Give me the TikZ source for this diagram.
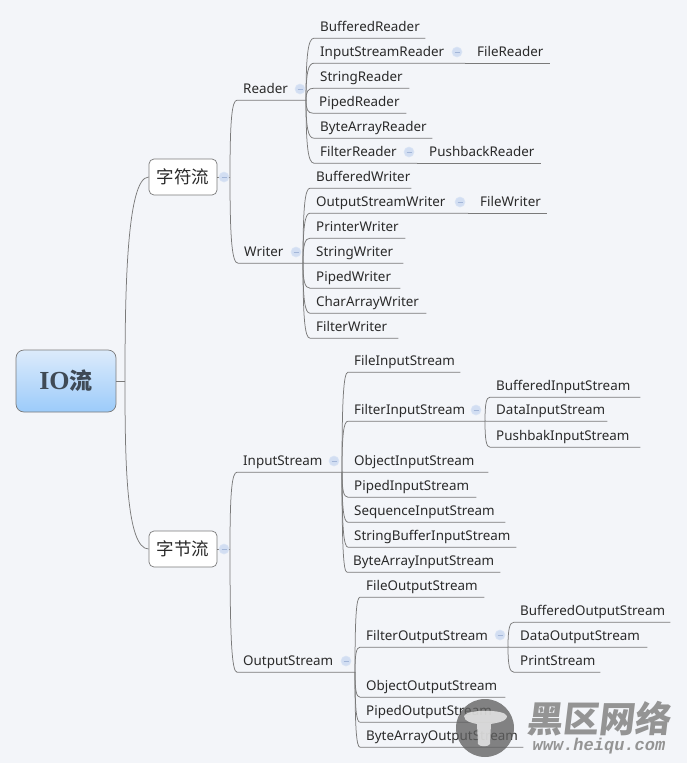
\documentclass[tikz,border=0pt]{standalone}
\usepackage{fontspec}
\setmainfont{Noto Sans}
\newfontfamily\cjkfont{Noto Sans CJK SC}
\newfontfamily\wmfont{Liberation Mono}
\newfontfamily\rootfont{Liberation Serif}
\usetikzlibrary{calc,shadings}
\definecolor{pagebg}{HTML}{F3F5F9}
\definecolor{linegray}{HTML}{7A7A7A}
\definecolor{inkc}{HTML}{2A2A2A}
\definecolor{rootink}{HTML}{3F4A55}
\definecolor{roottop}{HTML}{DCEBFB}
\definecolor{rootbot}{HTML}{9CCBFA}
\definecolor{dotfill}{HTML}{D2DEF2}
\definecolor{dotline}{HTML}{A3B6D8}
\tikzset{
  conn/.style={draw=linegray,line width=0.75pt},
  leafnode/.style={anchor=base west,inner xsep=6pt,inner ysep=0pt,text height=11pt,text depth=6.2pt,
    font=\fontsize{13.4}{16}\selectfont,text=inkc,align=left},
  collapse/.style={circle,minimum size=10pt,inner sep=0pt,fill=dotfill,draw=dotfill!80!white,line width=0.6pt,
    path picture={\draw[dotline,line width=0.7pt] ([xshift=-2.5pt]path picture bounding box.center)--([xshift=2.5pt]path picture bounding box.center);}},
  branchbox/.style={rounded corners=5pt,draw=linegray,fill=white,line width=0.7pt,minimum width=68pt,minimum height=36pt,
    inner sep=0pt,text=inkc,font=\cjkfont\fontsize{17.5}{20}\selectfont},
  rootbox/.style={rounded corners=8pt,draw=linegray,top color=roottop,bottom color=rootbot,line width=0.7pt,
    minimum width=100pt,minimum height=62pt,inner sep=0pt,text=rootink}
}
% \leaf{name}{x start}{underline y}{x end}{text}
\newcommand{\leaf}[5]{%
  \pgfmathsetmacro{\lw}{#4-#2-12}%
  \node[leafnode,text width=\lw pt] (#1) at (#2,#3-6.2) {#5};}
% \lnk{from}{to}: curved connector, then the node's underline
\newcommand{\lnk}[2]{%
  \draw[conn] (#1) .. controls ($(#1)!0.72!(#1 |- #2.south west)$) and ($(#1 |- #2.south west)!0.25!(#2.south west)$) .. (#2.south west) -- (#2.south east);}
\begin{document}
\begin{tikzpicture}[x=1pt,y=-1pt]
\useasboundingbox (0,0) rectangle (687,763);
\fill[pagebg] (0,0) rectangle (687,763);

% root and branches
\node[rootbox] (root) at (66,381) {\rootfont\fontsize{26}{28}\selectfont\bfseries IO{\cjkfont\fontsize{23}{26}\selectfont 流}};
\node[branchbox] (zf) at (183,177) {字符流};
\node[branchbox] (zj) at (183,549) {字节流};
\coordinate (hroot) at (125,381);
\coordinate (hzf) at (230,177);
\coordinate (hzj) at (230,549);
\coordinate (hread) at (306,100);
\coordinate (hwrite) at (303,263);
\coordinate (hin) at (342,472);
\coordinate (hout) at (355,672);
\coordinate (hfin) at (485,421);
\coordinate (hfout) at (508,647);

\draw[conn] (root.east) -- (hroot);
\draw[conn] (hroot) .. controls (125,300) and (126,177) .. (zf.west);
\draw[conn] (hroot) .. controls (125,460) and (126,549) .. (zj.west);
\draw[conn] (zf.east) -- (hzf);
\draw[conn] (zj.east) -- (hzj);

% nodes: Reader
\leaf{reader}{237}{100}{306}{Reader}
\leaf{r1}{314}{38}{425}{BufferedReader}
\leaf{r2}{314}{63}{465}{InputStreamReader}
\leaf{r2a}{471}{63}{550}{FileReader}
\leaf{r3}{314}{88}{409}{StringReader}
\leaf{r4}{313}{113}{406}{PipedReader}
\leaf{r5}{314}{138}{432}{ByteArrayReader}
\leaf{r6}{314}{163}{417}{FilterReader}
\leaf{r6a}{423}{163}{541}{PushbackReader}
% Writer
\leaf{writer}{238}{263}{303}{Writer}
\leaf{w1}{310}{188}{411}{BufferedWriter}
\leaf{w2}{310}{213}{468}{OutputStreamWriter}
\leaf{w2a}{474}{213}{547}{FileWriter}
\leaf{w3}{310}{238}{405}{PrinterWriter}
\leaf{w4}{310}{263}{403}{StringWriter}
\leaf{w5}{310}{288}{400}{PipedWriter}
\leaf{w6}{310}{313}{426}{CharArrayWriter}
\leaf{w7}{310}{338}{398}{FilterWriter}
% InputStream
\leaf{ins}{237}{472}{342}{InputStream}
\leaf{i1}{348}{372}{460}{FileInputStream}
\leaf{i2}{348}{421}{485}{FilterInputStream}
\leaf{i2a}{490}{397}{640}{BufferedInputStream}
\leaf{i2b}{490}{421}{607}{DataInputStream}
\leaf{i2c}{490}{447}{640}{PushbakInputStream}
\leaf{i3}{348}{472}{488}{ObjectInputStream}
\leaf{i4}{348}{497}{476}{PipedInputStream}
\leaf{i5}{348}{522}{505}{SequenceInputStream}
\leaf{i6}{348}{547}{516}{StringBufferInputStream}
\leaf{i7}{347}{572}{500}{ByteArrayInputStream}
% OutputStream
\leaf{outs}{237}{672}{355}{OutputStream}
\leaf{o1}{360}{597}{484}{FileOutputStream}
\leaf{o2}{360}{647}{508}{FilterOutputStream}
\leaf{o2a}{514}{622}{670}{BufferedOutputStream}
\leaf{o2b}{514}{647}{647}{DataOutputStream}
\leaf{o2c}{514}{672}{600}{PrintStream}
\leaf{o3}{360}{697}{505}{ObjectOutputStream}
\leaf{o4}{360}{722}{495}{PipedOutputStream}
\leaf{o5}{360}{747}{523}{ByteArrayOutputStream}

% connectors
\lnk{hzf}{reader}\lnk{hzf}{writer}\lnk{hzj}{ins}\lnk{hzj}{outs}
\lnk{hread}{r1}\lnk{hread}{r2}\lnk{hread}{r3}\lnk{hread}{r4}\lnk{hread}{r5}\lnk{hread}{r6}
\lnk{hwrite}{w1}\lnk{hwrite}{w2}\lnk{hwrite}{w3}\lnk{hwrite}{w4}\lnk{hwrite}{w5}\lnk{hwrite}{w6}\lnk{hwrite}{w7}
\lnk{hin}{i1}\lnk{hin}{i2}\lnk{hin}{i3}\lnk{hin}{i4}\lnk{hin}{i5}\lnk{hin}{i6}\lnk{hin}{i7}
\lnk{hfin}{i2a}\lnk{hfin}{i2b}\lnk{hfin}{i2c}
\lnk{hout}{o1}\lnk{hout}{o2}\lnk{hout}{o3}\lnk{hout}{o4}\lnk{hout}{o5}
\lnk{hfout}{o2a}\lnk{hfout}{o2b}\lnk{hfout}{o2c}
\draw[conn] (r2.south east) -- (r2a.south west) -- (r2a.south east);
\draw[conn] (r6.south east) -- (r6a.south west) -- (r6a.south east);
\draw[conn] (w2.south east) -- (w2a.south west) -- (w2a.south east);

% collapse markers
\foreach \px/\py in {224/177,224/549,300/89,296/252,334/461,346/661,457/52,409/152,460/202,476/410,500/635}
  \node[collapse] at (\px,\py) {};

% watermark
\fill[black!62,opacity=0.78] (485,728) circle (29);
\fill[white!92!black,opacity=0.82] (464,716) .. controls (466,709) and (505,709) .. (507,716) .. controls (507,722) and (495,723) .. (491,724)
  -- (490,744) .. controls (489,747) and (479,747) .. (478,744) -- (477,724) .. controls (473,723) and (464,722) .. (464,716) -- cycle;
\node[text=black!42,inner sep=0pt,font=\cjkfont\bfseries\fontsize{36}{38}\selectfont,xslant=0.12] (wm1) at (600,719) {黑区网络};
\node[text=black!42,inner sep=0pt,font=\wmfont\itshape\bfseries\fontsize{17}{18}\selectfont] (wm2) at (599,746) {www.heiqu.com};
\end{tikzpicture}
\end{document}
